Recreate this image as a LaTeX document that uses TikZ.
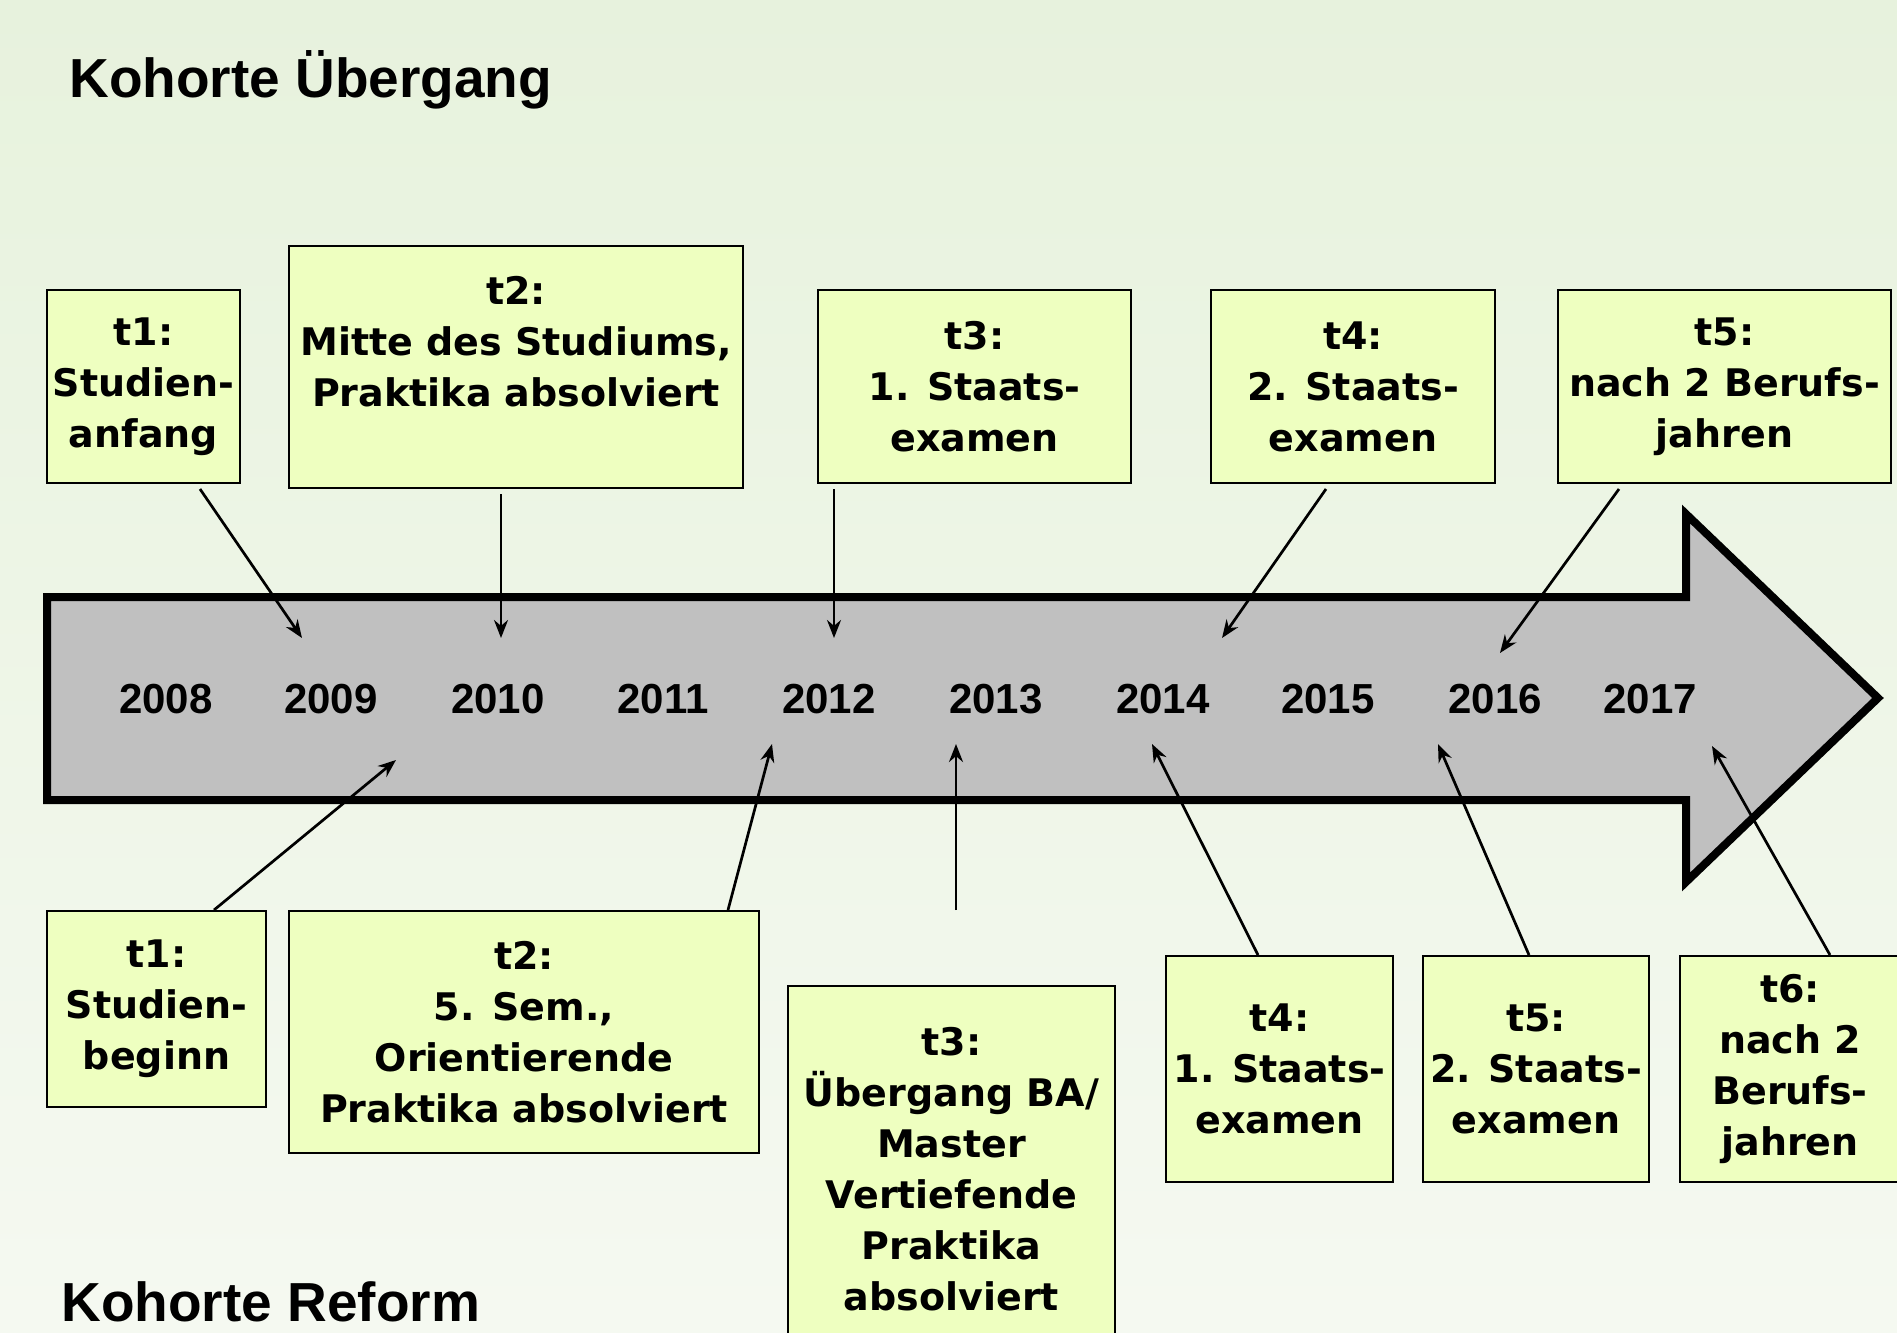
\documentclass[tikz,border=0pt]{standalone}
\usepackage{fontspec}
\setmainfont{Liberation Sans}
\newfontfamily\dejavu{DejaVu Sans}
\usetikzlibrary{arrows.meta}
\definecolor{bgtop}{RGB}{231,242,221}
\definecolor{bgbot}{RGB}{245,249,241}
\definecolor{boxfill}{RGB}{238,255,192}
\definecolor{arrowfill}{RGB}{192,192,192}
\newcommand\boxfont{\dejavu\bfseries\fontsize{19}{25.5}\selectfont}
\tikzset{
  box/.style={draw, line width=1pt, fill=boxfill, align=center, font=\boxfont, inner sep=2pt},
  year/.style={font=\bfseries\fontsize{21}{24}\selectfont},
  title/.style={anchor=base west, inner sep=0pt, font=\bfseries\fontsize{27.5}{30}\selectfont},
  conn/.style={-{Stealth[length=9pt,width=7pt]}, line width=1.35pt},
}
\begin{document}
\begin{tikzpicture}[x=0.5pt,y=-0.5pt]
\useasboundingbox (0,0) rectangle (1897,1333);
\clip (0,0) rectangle (1897,1333);
\shade[top color=bgtop, bottom color=bgbot] (0,0) rectangle (1897,1333);
% titles
\node[title] (titleA) at (69,97) {Kohorte Übergang};
\node[title] (titleB) at (61,1321) {Kohorte Reform};
% timeline arrow
\draw[line width=4pt, fill=arrowfill, miter limit=20] (47,597) -- (1686,597) -- (1686,514) -- (1878,698)
  -- (1686,882) -- (1686,800) -- (47,800) -- cycle;
\foreach \yr/\px in {2008/166,2009/331,2010/498,2011/663,2012/829,2013/996,2014/1163,2015/1328,2016/1495,2017/1650}
  \node[year] (y\yr) at (\px,699) {\yr};
% Kohorte Uebergang
\node[box, minimum width=96.5pt, minimum height=96.5pt] (t1o) at (143.5,386.5) {t1:\\Studien-\\anfang};
\node[box, minimum width=227pt, minimum height=121pt] (t2o) at (516,367) {t2:\\Mitte des Studiums,\\Praktika absolviert\\~};
\node[box, minimum width=156.5pt, minimum height=96.5pt] (t3o) at (974.5,386.5) {t3:\\1. Staats-\\examen};
\node[box, minimum width=142pt, minimum height=96.5pt] (t4o) at (1353,386.5) {t4:\\2. Staats-\\examen};
\node[box, minimum width=166.5pt, minimum height=96.5pt] (t5o) at (1724.5,386.5) {t5:\\nach 2 Berufs-\\jahren};
% Kohorte Reform
\node[box, minimum width=109.5pt, minimum height=98pt] (t1u) at (156.5,1009) {t1:\\Studien-\\beginn};
\node[box, minimum width=235pt, minimum height=121pt] (t2u) at (524,1032) {t2:\\5. Sem.,\\Orientierende\\Praktika absolviert};
\node[box, minimum width=163.5pt, minimum height=183pt] (t3u) at (951.5,1169) {t3:\\Übergang BA/\\Master\\Vertiefende\\Praktika\\absolviert};
\node[box, minimum width=113.5pt, minimum height=113pt] (t4u) at (1279.5,1069) {t4:\\1. Staats-\\examen};
\node[box, minimum width=113pt, minimum height=113pt] (t5u) at (1536,1069) {t5:\\2. Staats-\\examen};
\node[box, minimum width=110pt, minimum height=113pt] (t6u) at (1790,1069) {t6:\\nach 2\\Berufs-\\jahren};
% arrow ends on the timeline
\coordinate (a1o) at (302,638);
\coordinate (a2o) at (501,638);
\coordinate (a3o) at (834,638);
\coordinate (a4o) at (1222,638);
\coordinate (a5o) at (1500,653);
\coordinate (a1u) at (396,760);
\coordinate (a2u) at (772,744);
\coordinate (s3u) at (956,910);
\coordinate (a3u) at (956,744);
\coordinate (a4u) at (1152,744);
\coordinate (a5u) at (1438,744);
\coordinate (a6u) at (1712,746);
\draw[conn] ([xshift=28.25pt,yshift=-2.5pt]t1o.south) -- (a1o);
\draw[conn] ([xshift=-7.5pt,yshift=-2.5pt]t2o.south) -- (a2o);
\draw[conn] ([xshift=-70.25pt,yshift=-2.5pt]t3o.south) -- (a3o);
\draw[conn] ([xshift=-13.5pt,yshift=-2.5pt]t4o.south) -- (a4o);
\draw[conn] ([xshift=-52.75pt,yshift=-2.5pt]t5o.south) -- (a5o);
\draw[conn] ([xshift=28.75pt]t1u.north) -- (a1u);
\draw[conn] ([xshift=102pt]t2u.north) -- (a2u);
\draw[conn] (s3u) -- (a3u);
\draw[conn] ([xshift=-10.75pt]t4u.north) -- (a4u);
\draw[conn] ([xshift=-3.5pt]t5u.north) -- (a5u);
\draw[conn] ([xshift=20pt]t6u.north) -- (a6u);
\end{tikzpicture}
\end{document}
